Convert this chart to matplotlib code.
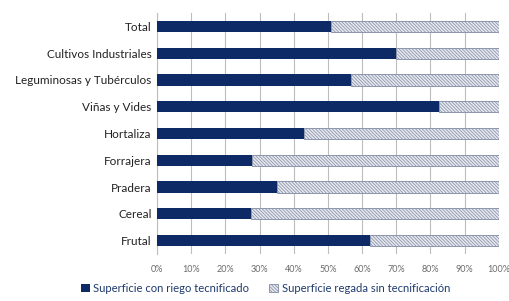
import matplotlib
matplotlib.use("Agg")
import matplotlib.pyplot as plt
import numpy as np

plt.rcParams["font.family"] = ["Lato", "DejaVu Sans"]
plt.rcParams["hatch.color"] = "#9aa1b0"
plt.rcParams["hatch.linewidth"] = 0.5

# ── Data ─────────────────────────────────────────────────────
categories = ["Total", "Cultivos Industriales", "Leguminosas y Tubérculos",
              "Viñas y Vides", "Hortaliza", "Forrajera", "Pradera",
              "Cereal", "Frutal"]
tecnificado = [51.0, 70.0, 56.7, 82.5, 43.0, 27.7, 35.2, 27.5, 62.3]
sin_tecnif = [100 - v for v in tecnificado]
ticks = np.arange(0, 101, 10)
tick_labels = [f"{t}%" for t in ticks]

NAVY = "#0e2a66"

fig = plt.figure(figsize=(5.1, 3.01), dpi=100)
ax = fig.add_axes([0.308, 0.156, 0.670, 0.801])

y = np.arange(len(categories))[::-1]
ax.barh(y, tecnificado, height=0.42, color=NAVY, zorder=3,
        label="Superficie con riego tecnificado")
ax.barh(y, sin_tecnif, left=tecnificado, height=0.42, color="#e6e8ee",
        edgecolor="#7f8aa3", linewidth=0.6, hatch="\\" * 10, zorder=3,
        label="Superficie regada sin tecnificación")

ax.set_xlim(0, 100)
ax.set_ylim(-0.5, len(categories) - 0.5)
ax.set_xticks(ticks)
ax.set_xticklabels(tick_labels, fontsize=6.5, color="#6b6b6b")
ax.set_yticks(y)
ax.set_yticklabels(categories, fontsize=8.5, color="#222222")
ax.tick_params(axis="both", length=0, pad=4)
ax.tick_params(axis="x", pad=8)
ax.grid(True, axis="x", color="#bdbdbd", linewidth=0.8, zorder=0)
for s in ["top", "right", "bottom"]:
    ax.spines[s].set_visible(False)
ax.spines["left"].set_color("#bdbdbd")
ax.spines["left"].set_linewidth(0.8)

fig.legend(loc="lower center", bbox_to_anchor=(0.52, -0.01), ncol=2,
           frameon=False, fontsize=8.1, handlelength=0.8, handleheight=0.8,
           handletextpad=0.3, columnspacing=1.8, labelcolor="#1f3a6e")

fig.savefig("out.png", dpi=100)
